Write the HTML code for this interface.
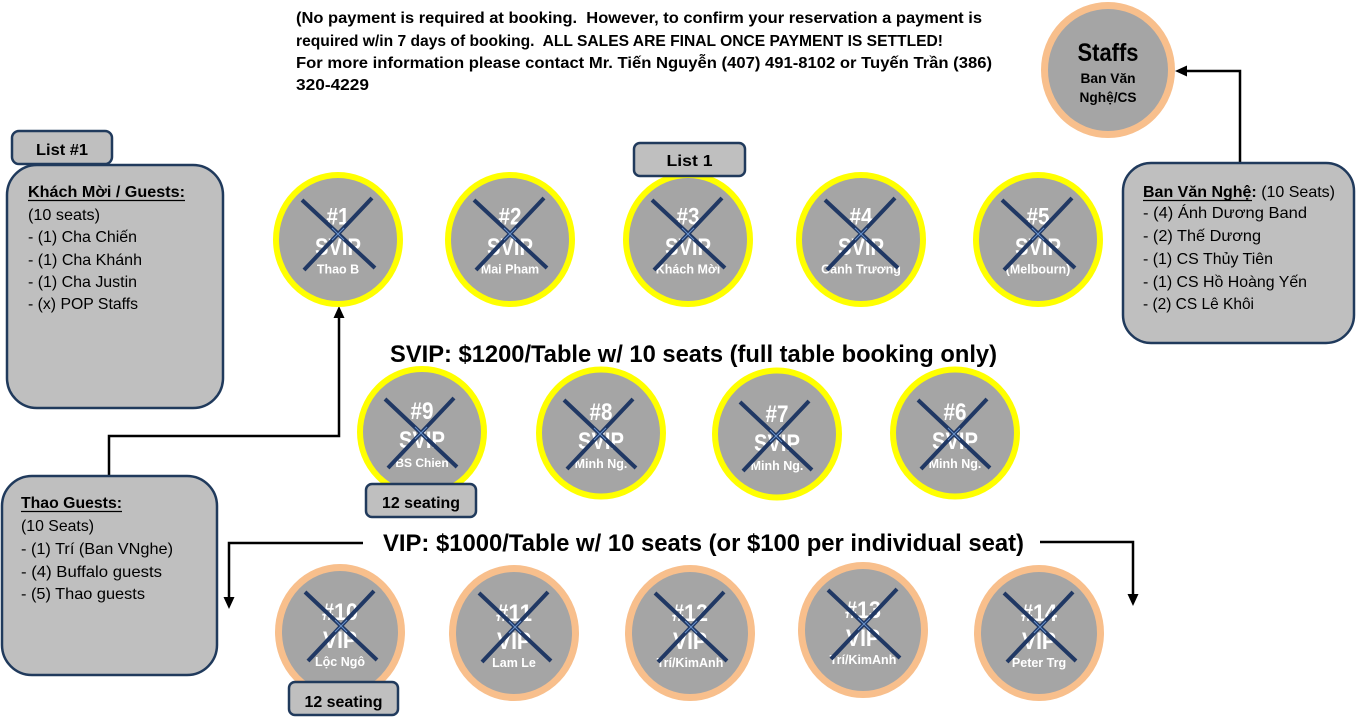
<!DOCTYPE html>
<html>
<head>
<meta charset="utf-8">
<style>
  html,body{margin:0;padding:0;background:#fff;}
  svg{display:block;}
  text{font-family:"Liberation Sans","DejaVu Sans",sans-serif;}
  .b{font-weight:bold;}
  .w{fill:#fff;font-weight:bold;}
</style>
</head>
<body>
<svg width="1356" height="717" viewBox="0 0 1356 717" xmlns="http://www.w3.org/2000/svg">
  <!-- Top note text -->
  <g class="b" font-size="15.5" fill="#000">
    <text x="296" y="23" textLength="686" lengthAdjust="spacingAndGlyphs">(No payment is required at booking.&#160; However, to confirm your reservation a payment is</text>
    <text x="296" y="46" textLength="647" lengthAdjust="spacingAndGlyphs">required w/in 7 days of booking.&#160; ALL SALES ARE FINAL ONCE PAYMENT IS SETTLED!</text>
    <text x="296" y="68" textLength="696" lengthAdjust="spacingAndGlyphs">For more information please contact Mr. Tiến Nguyễn (407) 491-8102 or Tuyến Trần (386)</text>
    <text x="296" y="90" textLength="73" lengthAdjust="spacingAndGlyphs">320-4229</text>
  </g>

  <!-- Connectors -->
  <g fill="none" stroke="#000" stroke-width="2.5">
    <path d="M109,476 V436 H339 V316"/>
    <path d="M1240,163 V71 H1186"/>
    <path d="M363,543 H229 V598"/>
    <path d="M1040,542 H1133 V595"/>
  </g>
  <g fill="#000">
    <polygon points="339,306 333.5,318 344.5,318"/>
    <polygon points="1175,71 1187,65.5 1187,76.5"/>
    <polygon points="229,609 223.5,597 234.5,597"/>
    <polygon points="1133,606 1127.5,594 1138.5,594"/>
  </g>

  <!-- Staffs circle -->
  <ellipse cx="1108" cy="70" rx="63.5" ry="64.5" fill="#A5A5A5" stroke="#F8BF8C" stroke-width="7"/>
  <text x="1108" y="61" text-anchor="middle" class="b" font-size="25" textLength="61" lengthAdjust="spacingAndGlyphs">Staffs</text>
  <text x="1108" y="83" text-anchor="middle" class="b" font-size="14" textLength="55" lengthAdjust="spacingAndGlyphs">Ban Văn</text>
  <text x="1108" y="102" text-anchor="middle" class="b" font-size="14" textLength="57" lengthAdjust="spacingAndGlyphs">Nghệ/CS</text>

  <!-- Left boxes -->
  <rect x="7" y="165" width="216" height="243" rx="30" ry="30" fill="#BFBFBF" stroke="#203A5C" stroke-width="2.5"/>
  <rect x="12" y="131" width="100" height="33" rx="7" ry="7" fill="#BFBFBF" stroke="#203A5C" stroke-width="2.5"/>
  <text x="62" y="155" text-anchor="middle" class="b" font-size="16" textLength="52" lengthAdjust="spacingAndGlyphs">List #1</text>
  <g font-size="16" fill="#000">
    <text x="28" y="197" class="b" textLength="157" lengthAdjust="spacingAndGlyphs">Khách Mời / Guests:</text>
    <text x="28" y="220" textLength="72" lengthAdjust="spacingAndGlyphs">(10 seats)</text>
    <text x="28" y="242" textLength="109" lengthAdjust="spacingAndGlyphs">- (1) Cha Chiến</text>
    <text x="28" y="265" textLength="114" lengthAdjust="spacingAndGlyphs">- (1) Cha Khánh</text>
    <text x="28" y="287" textLength="109" lengthAdjust="spacingAndGlyphs">- (1) Cha Justin</text>
    <text x="28" y="309" textLength="110" lengthAdjust="spacingAndGlyphs">- (x) POP Staffs</text>
  </g>
  <line x1="28" y1="200.5" x2="185" y2="200.5" stroke="#000" stroke-width="1.3"/>

  <rect x="2" y="476" width="215" height="199" rx="30" ry="30" fill="#BFBFBF" stroke="#203A5C" stroke-width="2.5"/>
  <g font-size="16" fill="#000">
    <text x="21" y="508" class="b" textLength="101" lengthAdjust="spacingAndGlyphs">Thao Guests:</text>
    <text x="21" y="531" textLength="73" lengthAdjust="spacingAndGlyphs">(10 Seats)</text>
    <text x="21" y="554" textLength="152" lengthAdjust="spacingAndGlyphs">- (1) Trí (Ban VNghe)</text>
    <text x="21" y="577" textLength="141" lengthAdjust="spacingAndGlyphs">- (4) Buffalo guests</text>
    <text x="21" y="599" textLength="124" lengthAdjust="spacingAndGlyphs">- (5) Thao guests</text>
  </g>
  <line x1="21" y1="511.5" x2="122" y2="511.5" stroke="#000" stroke-width="1.3"/>

  <!-- Right box -->
  <rect x="1123" y="163" width="231" height="180" rx="28" ry="28" fill="#BFBFBF" stroke="#203A5C" stroke-width="2.5"/>
  <g font-size="16" fill="#000">
    <text x="1143" y="197" textLength="192" lengthAdjust="spacingAndGlyphs"><tspan class="b">Ban Văn Nghệ:</tspan> (10 Seats)</text>
    <text x="1143" y="218" textLength="164" lengthAdjust="spacingAndGlyphs">- (4) Ánh Dương Band</text>
    <text x="1143" y="241" textLength="118" lengthAdjust="spacingAndGlyphs">- (2) Thế Dương</text>
    <text x="1143" y="264" textLength="130" lengthAdjust="spacingAndGlyphs">- (1) CS Thủy Tiên</text>
    <text x="1143" y="287" textLength="164" lengthAdjust="spacingAndGlyphs">- (1) CS Hồ Hoàng Yến</text>
    <text x="1143" y="309" textLength="111" lengthAdjust="spacingAndGlyphs">- (2) CS Lê Khôi</text>
  </g>
  <line x1="1143" y1="200.5" x2="1252" y2="200.5" stroke="#000" stroke-width="1.3"/>

  <!-- Titles -->
  <text x="390" y="362" class="b" font-size="24" textLength="607" lengthAdjust="spacingAndGlyphs">SVIP: $1200/Table w/ 10 seats (full table booking only)</text>
  <text x="383" y="551" class="b" font-size="24" textLength="641" lengthAdjust="spacingAndGlyphs">VIP: $1000/Table w/ 10 seats (or $100 per individual seat)</text>

  <!-- Row 1 SVIP -->
  <g>
    <ellipse cx="338" cy="239.5" rx="62" ry="64.5" fill="#A5A5A5" stroke="#FFFF00" stroke-width="6"/>
    <ellipse cx="510" cy="239.5" rx="62" ry="64.5" fill="#A5A5A5" stroke="#FFFF00" stroke-width="6"/>
    <ellipse cx="688" cy="239.5" rx="62" ry="64.5" fill="#A5A5A5" stroke="#FFFF00" stroke-width="6"/>
    <ellipse cx="861" cy="239.5" rx="62" ry="64.5" fill="#A5A5A5" stroke="#FFFF00" stroke-width="6"/>
    <ellipse cx="1038" cy="239.5" rx="62" ry="64.5" fill="#A5A5A5" stroke="#FFFF00" stroke-width="6"/>
  </g>
  <g class="w" text-anchor="middle">
    <text x="338" y="224.5" font-size="24" textLength="23" lengthAdjust="spacingAndGlyphs">#1</text><text x="338" y="255" font-size="24" textLength="46" lengthAdjust="spacingAndGlyphs">SVIP</text><text x="338" y="273.5" font-size="12.5">Thao B</text>
    <text x="510" y="224.5" font-size="24" textLength="23" lengthAdjust="spacingAndGlyphs">#2</text><text x="510" y="255" font-size="24" textLength="46" lengthAdjust="spacingAndGlyphs">SVIP</text><text x="510" y="273.5" font-size="12.5">Mai Pham</text>
    <text x="688" y="224.5" font-size="24" textLength="23" lengthAdjust="spacingAndGlyphs">#3</text><text x="688" y="255" font-size="24" textLength="46" lengthAdjust="spacingAndGlyphs">SVIP</text><text x="688" y="273.5" font-size="12.5">Khách Mời</text>
    <text x="861" y="224.5" font-size="24" textLength="23" lengthAdjust="spacingAndGlyphs">#4</text><text x="861" y="255" font-size="24" textLength="46" lengthAdjust="spacingAndGlyphs">SVIP</text><text x="861" y="273.5" font-size="12.5">Canh Trương</text>
    <text x="1038" y="224.5" font-size="24" textLength="23" lengthAdjust="spacingAndGlyphs">#5</text><text x="1038" y="255" font-size="24" textLength="46" lengthAdjust="spacingAndGlyphs">SVIP</text><text x="1038" y="273.5" font-size="12.5">(Melbourn)</text>
  </g>

  <!-- Row 2 SVIP -->
  <g>
    <ellipse cx="422" cy="432" rx="62" ry="63" fill="#A5A5A5" stroke="#FFFF00" stroke-width="6"/>
    <ellipse cx="601" cy="433" rx="62" ry="63.5" fill="#A5A5A5" stroke="#FFFF00" stroke-width="6"/>
    <ellipse cx="777" cy="434" rx="62" ry="63.5" fill="#A5A5A5" stroke="#FFFF00" stroke-width="6"/>
    <ellipse cx="955" cy="433" rx="62" ry="63.5" fill="#A5A5A5" stroke="#FFFF00" stroke-width="6"/>
  </g>
  <g class="w" text-anchor="middle">
    <text x="422" y="419" font-size="24" textLength="23" lengthAdjust="spacingAndGlyphs">#9</text><text x="422" y="448" font-size="24" textLength="46" lengthAdjust="spacingAndGlyphs">SVIP</text><text x="422" y="467" font-size="12">BS Chien</text>
    <text x="601" y="420" font-size="24" textLength="23" lengthAdjust="spacingAndGlyphs">#8</text><text x="601" y="449" font-size="24" textLength="46" lengthAdjust="spacingAndGlyphs">SVIP</text><text x="601" y="468" font-size="12.5">Minh Ng.</text>
    <text x="777" y="422" font-size="24" textLength="23" lengthAdjust="spacingAndGlyphs">#7</text><text x="777" y="451" font-size="24" textLength="46" lengthAdjust="spacingAndGlyphs">SVIP</text><text x="777" y="470" font-size="12.5">Minh Ng.</text>
    <text x="955" y="420" font-size="24" textLength="23" lengthAdjust="spacingAndGlyphs">#6</text><text x="955" y="449" font-size="24" textLength="46" lengthAdjust="spacingAndGlyphs">SVIP</text><text x="955" y="468" font-size="12.5">Minh Ng.</text>
  </g>

  <!-- Row 3 VIP -->
  <g>
    <ellipse cx="340" cy="632" rx="61.5" ry="64.5" fill="#A5A5A5" stroke="#F8BF8C" stroke-width="7"/>
    <ellipse cx="514" cy="633" rx="61.5" ry="64.5" fill="#A5A5A5" stroke="#F8BF8C" stroke-width="7"/>
    <ellipse cx="690" cy="633" rx="61.5" ry="64.5" fill="#A5A5A5" stroke="#F8BF8C" stroke-width="7"/>
    <ellipse cx="863" cy="630" rx="61.5" ry="64.5" fill="#A5A5A5" stroke="#F8BF8C" stroke-width="7"/>
    <ellipse cx="1039" cy="633" rx="61.5" ry="64.5" fill="#A5A5A5" stroke="#F8BF8C" stroke-width="7"/>
  </g>
  <g class="w" text-anchor="middle">
    <text x="340" y="620" font-size="24" textLength="36" lengthAdjust="spacingAndGlyphs">#10</text><text x="340" y="648" font-size="24" textLength="34" lengthAdjust="spacingAndGlyphs">VIP</text><text x="340" y="666" font-size="12.5">Lộc Ngô</text>
    <text x="514" y="621" font-size="24" textLength="36" lengthAdjust="spacingAndGlyphs">#11</text><text x="514" y="649" font-size="24" textLength="34" lengthAdjust="spacingAndGlyphs">VIP</text><text x="514" y="667" font-size="12.5">Lam Le</text>
    <text x="690" y="621" font-size="24" textLength="36" lengthAdjust="spacingAndGlyphs">#12</text><text x="690" y="649" font-size="24" textLength="34" lengthAdjust="spacingAndGlyphs">VIP</text><text x="690" y="667" font-size="12.5">Trí/KimAnh</text>
    <text x="863" y="618" font-size="24" textLength="36" lengthAdjust="spacingAndGlyphs">#13</text><text x="863" y="646" font-size="24" textLength="34" lengthAdjust="spacingAndGlyphs">VIP</text><text x="863" y="664" font-size="12.5">Trí/KimAnh</text>
    <text x="1039" y="621" font-size="24" textLength="36" lengthAdjust="spacingAndGlyphs">#14</text><text x="1039" y="649" font-size="24" textLength="34" lengthAdjust="spacingAndGlyphs">VIP</text><text x="1039" y="667" font-size="12.5">Peter Trg</text>
  </g>

  <!-- X marks -->
  <g stroke="#203864" stroke-width="4" stroke-linecap="butt">
    <path d="M302,200 L375,268 M372,198 L304,270"/>
    <path d="M474,200 L547,268 M544,198 L476,270"/>
    <path d="M652,200 L725,268 M722,198 L654,270"/>
    <path d="M825,200 L898,268 M895,198 L827,270"/>
    <path d="M1002,200 L1075,268 M1072,198 L1004,270"/>
    <path d="M385,399 L457,467 M454,398 L388,468"/>
    <path d="M564,400 L636,468 M633,399 L567,469"/>
    <path d="M740,402 L812,470 M809,401 L743,471"/>
    <path d="M918,400 L990,468 M987,399 L921,469"/>
    <path d="M305,592 L377,660 M374,591 L308,661"/>
    <path d="M479,593 L551,661 M548,592 L482,662"/>
    <path d="M655,593 L727,661 M724,592 L658,662"/>
    <path d="M828,590 L900,658 M897,589 L831,659"/>
    <path d="M1004,593 L1076,661 M1073,592 L1007,662"/>
  </g>
  <g stroke="#6F9BD8" stroke-width="1" opacity="0.9">
    <path d="M332,228 L344,240 M344,228 L332,240"/>
    <path d="M504,228 L516,240 M516,228 L504,240"/>
    <path d="M682,228 L694,240 M694,228 L682,240"/>
    <path d="M855,228 L867,240 M867,228 L855,240"/>
    <path d="M1032,228 L1044,240 M1044,228 L1032,240"/>
    <path d="M415,427 L427,439 M427,427 L415,439"/>
    <path d="M594,428 L606,440 M606,428 L594,440"/>
    <path d="M770,430 L782,442 M782,430 L770,442"/>
    <path d="M948,428 L960,440 M960,428 L948,440"/>
    <path d="M335,620 L347,632 M347,620 L335,632"/>
    <path d="M509,621 L521,633 M521,621 L509,633"/>
    <path d="M685,621 L697,633 M697,621 L685,633"/>
    <path d="M858,618 L870,630 M870,618 L858,630"/>
    <path d="M1034,621 L1046,633 M1046,621 L1034,633"/>
  </g>

  <!-- Tabs over circles -->
  <rect x="634" y="143" width="111" height="33" rx="6" ry="6" fill="#BFBFBF" stroke="#203A5C" stroke-width="2.5"/>
  <text x="689.5" y="166" text-anchor="middle" class="b" font-size="16" textLength="46" lengthAdjust="spacingAndGlyphs">List 1</text>

  <rect x="366" y="484" width="110" height="33" rx="6" ry="6" fill="#BFBFBF" stroke="#203A5C" stroke-width="2.5"/>
  <text x="421" y="508" text-anchor="middle" class="b" font-size="16" textLength="78" lengthAdjust="spacingAndGlyphs">12 seating</text>

  <rect x="289" y="682" width="109" height="33" rx="6" ry="6" fill="#BFBFBF" stroke="#203A5C" stroke-width="2.5"/>
  <text x="343.5" y="707" text-anchor="middle" class="b" font-size="16" textLength="78" lengthAdjust="spacingAndGlyphs">12 seating</text>
</svg>
</body>
</html>
